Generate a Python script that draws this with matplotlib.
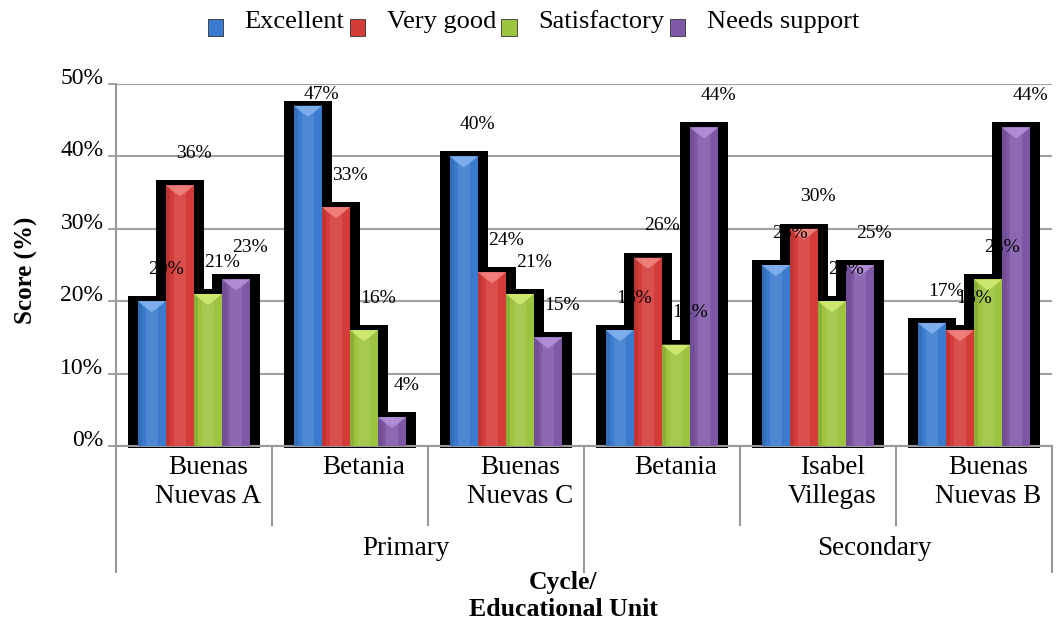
import matplotlib.pyplot as plt
import numpy as np
from matplotlib.patches import Patch, Rectangle
from matplotlib.legend_handler import HandlerPatch
from matplotlib.ticker import PercentFormatter
import matplotlib.transforms as mtransforms

plt.rcParams['font.family'] = ['Liberation Serif', 'DejaVu Serif']

units = ['Buenas\nNuevas A', 'Betania', 'Buenas\nNuevas C',
         'Betania', 'Isabel\nVillegas', 'Buenas\nNuevas B']
cycles = ['Primary', 'Secondary']
series = ['Excellent', 'Very good', 'Satisfactory', 'Needs support']

excellent = [20, 47, 40, 16, 25, 17]
very_good = [36, 33, 24, 26, 30, 16]
satisfactory = [21, 16, 21, 14, 20, 23]
needs_support = [23, 4, 15, 44, 25, 44]
values = [excellent, very_good, satisfactory, needs_support]

colors = ['#3b7bcf', '#d43c3a', '#9cc43e', '#8058a8']
tops = ['#8ab8f2', '#f38a86', '#d6ef78', '#b896dc']

fig = plt.figure(figsize=(10.58, 6.27), dpi=100)
ax = fig.add_axes([0.1096, 0.2887, 0.8847, 0.5773])

x = np.arange(len(units))
w = 0.18
pad_x = 0.064   # black outline around bars
pad_y = 0.7

# black shadows first
for i, vals in enumerate(values):
    v = np.array(vals, dtype=float)
    xs = x + (i - 1.5) * w
    ax.bar(xs, v + pad_y + 0.3, w + 2 * pad_x, bottom=-0.3, color='black',
           zorder=2, clip_on=False)

for i, vals in enumerate(values):
    v = np.array(vals, dtype=float)
    xs = x + (i - 1.5) * w
    ax.bar(xs, v, w, color=colors[i], zorder=3)
    # soft highlight down the middle
    ax.bar(xs, v, w * 0.45, color='white', alpha=0.10, zorder=4, lw=0)
    ax.bar(xs - w * 0.42, v, w * 0.16, color='black', alpha=0.10, zorder=4, lw=0)
    # bevel chevron at the top of each bar
    for xi, vi in zip(xs, v):
        ax.fill([xi - w / 2, xi + w / 2, xi + w / 2 - 0.05, xi, xi - w / 2 + 0.05],
                [vi, vi, vi - 0.9, vi - 1.5, vi - 0.9],
                color=tops[i], alpha=0.8, zorder=5, lw=0)
    # data labels (Excel-like placement)
    for xi, vi in zip(xs, v):
        ax.text(xi + 0.09, min(vi + 4.4, 48.6), f'{int(vi)}%', ha='center',
                va='center', fontsize=14, zorder=6)

ax.set_xlim(-0.5, len(units) - 0.5)
ax.set_ylim(0, 50)
ax.set_yticks(np.arange(0, 51, 10))
ax.yaxis.set_major_formatter(PercentFormatter(decimals=0))
ax.tick_params(axis='y', length=6, width=1.3, color='#999999', labelsize=17, pad=3)
plt.setp(ax.get_yticklabels(), va='baseline')
ax.set_xticks([])
ax.grid(axis='y', color='#a0a0a0', lw=1.5, zorder=0)
ax.set_axisbelow(True)
for s in ['top', 'right']:
    ax.spines[s].set_visible(False)
for s in ['left', 'bottom']:
    ax.spines[s].set_color('#999999')
    ax.spines[s].set_linewidth(1.5)

# multi-level category axis
trans = mtransforms.blended_transform_factory(ax.transData, ax.transAxes)
for k in range(len(units) + 1):
    b = k - 0.5
    low = -0.348 if k % 3 == 0 else -0.218
    ax.plot([b, b], [0, low], color='#999999', lw=1.5, transform=trans,
            clip_on=False)
for xi, name in zip(x, units):
    ax.text(xi + 0.09, -0.024, name, ha='center', va='top', fontsize=19.5,
            linespacing=1.25, transform=trans)
for j, name in enumerate(cycles):
    ax.text(1 + 3 * j + 0.36, -0.282, name, ha='center', va='center',
            fontsize=19.5, transform=trans)

ax.text(0.4776, -0.414, 'Cycle/\nEducational Unit', ha='center', va='center',
        fontsize=18.5, fontweight='bold', linespacing=1.2, transform=ax.transAxes)
fig.text(26 / 1058, 1 - 270 / 627, 'Score (%)', rotation=90, ha='center',
         va='center', fontsize=18, fontweight='bold')


def low_square(legend, orig_handle, xdescent, ydescent, width, height, fontsize):
    # legend keys sit a little below the text, as in the original
    return Rectangle((-xdescent, -ydescent - 0.55 * height), width, height)


handles = [Patch(facecolor=c, edgecolor='#333333', lw=0.6) for c in colors]
fig.legend(handles, series, loc='center', bbox_to_anchor=(0.504, 0.966),
           ncol=4, frameon=False, fontsize=19, handlelength=0.6,
           handleheight=0.6, handletextpad=0.8, columnspacing=0.2,
           handler_map={Patch: HandlerPatch(patch_func=low_square)})

fig.savefig('out.png', dpi=100)
